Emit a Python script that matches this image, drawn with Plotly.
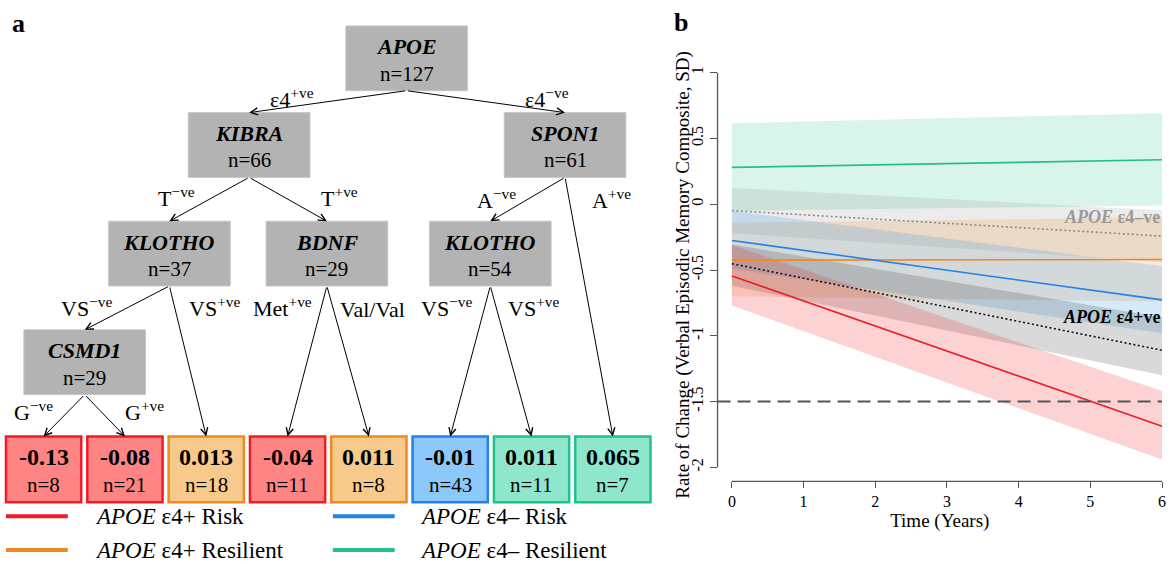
import plotly.graph_objects as go

W, H = 1176, 564
FONT = "Liberation Serif"

# ---------------- data: decision tree (panel a) ----------------
node_ids = ["apoe", "kibra", "spon1", "klotho1", "bdnf", "klotho2", "csmd1"]
node_genes = ["APOE", "KIBRA", "SPON1", "KLOTHO", "BDNF", "KLOTHO", "CSMD1"]
node_n = [127, 66, 61, 37, 29, 54, 29]

leaf_ids = ["L1", "L2", "L3", "L4", "L5", "L6", "L7", "L8"]
leaf_values = ["-0.13", "-0.08", "0.013", "-0.04", "0.011", "-0.01", "0.011", "0.065"]
leaf_n = [8, 21, 18, 11, 8, 43, 11, 7]
leaf_group = ["e4p_risk", "e4p_risk", "e4p_res", "e4p_risk", "e4p_res", "e4n_risk", "e4n_res", "e4n_res"]

edge_parent = ["apoe", "apoe", "kibra", "kibra", "spon1", "spon1", "klotho1", "klotho1",
               "bdnf", "bdnf", "klotho2", "klotho2", "csmd1", "csmd1"]
edge_child = ["kibra", "spon1", "klotho1", "bdnf", "klotho2", "L8", "csmd1", "L3",
              "L4", "L5", "L6", "L7", "L1", "L2"]
edge_labels = ["ε4<sup>+ve</sup>", "ε4<sup>−ve</sup>", "T<sup>−ve</sup>", "T<sup>+ve</sup>",
               "A<sup>−ve</sup>", "A<sup>+ve</sup>", "VS<sup>−ve</sup>", "VS<sup>+ve</sup>",
               "Met<sup>+ve</sup>", "Val/Val", "VS<sup>−ve</sup>", "VS<sup>+ve</sup>",
               "G<sup>−ve</sup>", "G<sup>+ve</sup>"]

group_keys = ["e4p_risk", "e4p_res", "e4n_risk", "e4n_res"]
group_names = ["<i>APOE</i> ε4+ Risk", "<i>APOE</i> ε4+ Resilient",
               "<i>APOE</i> ε4– Risk", "<i>APOE</i> ε4– Resilient"]

# ---------------- data: trajectories (panel b) ----------------
time_years = [0, 6]
e4p_risk_mean = [-0.545, -1.687]
e4p_risk_lo = [-0.77, -1.94]
e4p_risk_hi = [-0.31, -1.42]
e4p_res_mean = [-0.425, -0.42]
e4p_res_lo = [-0.70, -0.74]
e4p_res_hi = [-0.14, -0.10]
e4n_risk_mean = [-0.275, -0.727]
e4n_risk_lo = [-0.49, -0.98]
e4n_risk_hi = [-0.05, -0.47]
e4n_res_mean = [0.28, 0.338]
e4n_res_lo = [-0.05, -0.01]
e4n_res_hi = [0.616, 0.692]
e4neg_mean = [-0.048, -0.242]
e4neg_lo = [-0.22, -0.44]
e4neg_hi = [0.124, -0.045]
e4pos_mean = [-0.452, -1.11]
e4pos_lo = [-0.62, -1.30]
e4pos_hi = [-0.305, -0.86]
threshold = -1.5

y_ticks = [1, 0.5, 0, -0.5, -1, -1.5, -2]
y_ticktext = ["1", "0.5", "0", "-0.5", "-1", "-1.5", "-2"]
x_ticks = [0, 1, 2, 3, 4, 5, 6]

# ---------------- styles / layout positions ----------------
COL = {
    "e4p_risk": dict(line="#EE1C25", fill="#FF8585", band="rgba(238,28,36,0.2)"),
    "e4p_res": dict(line="#EE8A22", fill="#F7CA8C", band="rgba(240,140,40,0.18)"),
    "e4n_risk": dict(line="#2183E6", fill="#8DC8FB", band="rgba(30,136,229,0.18)"),
    "e4n_res": dict(line="#22C08A", fill="#8EE7CC", band="rgba(30,190,130,0.17)"),
}
NODE_POS = {"apoe": (408, 24), "kibra": (250, 111), "spon1": (567, 111),
            "klotho1": (170, 220), "bdnf": (328, 220), "klotho2": (492, 220),
            "csmd1": (85, 329)}
BOX_W, BOX_H = 122, 65
LEAF_X0, LEAF_STEP, LEAF_TOP, LEAF_W, LEAF_H = 43.75, 81.6, 436, 75.5, 66
EDGE_LABEL_POS = [(293, 96), (549, 96), (177, 196), (341, 196), (498, 198), (614, 198),
                  (87, 306), (216, 306), (283, 306), (374, 309), (449, 306), (536, 306),
                  (34, 410), (145, 410)]
LEGEND_POS = [(6, 93, 516), (6, 93, 550), (334, 419, 516), (334, 419, 550)]

fig = go.Figure()
shapes = []
annotations = []

def tx(x, y, text, size, color="black", xanchor="center", yanchor="middle", xref="x2", yref="y2"):
    annotations.append(dict(x=x, y=y, xref=xref, yref=yref, text=text, showarrow=False,
                            xanchor=xanchor, yanchor=yanchor,
                            font=dict(family=FONT, size=size, color=color)))

geom = {}
for nid, gene, n in zip(node_ids, node_genes, node_n):
    cx, top = NODE_POS[nid]
    geom[nid] = (cx, top, top + BOX_H)
    shapes.append(dict(type="rect", xref="x2", yref="y2", x0=cx - BOX_W / 2, x1=cx + BOX_W / 2,
                       y0=top, y1=top + BOX_H, fillcolor="#B3B3B3",
                       line=dict(color="#C6C6C6", width=1), layer="below"))
    tx(cx, top + 21, f"<b><i>{gene}</i></b>", 22)
    tx(cx, top + 48, f"n={n}", 21)

for i, (lid, val, n, g) in enumerate(zip(leaf_ids, leaf_values, leaf_n, leaf_group)):
    cx = LEAF_X0 + LEAF_STEP * i
    geom[lid] = (cx, LEAF_TOP, LEAF_TOP + LEAF_H)
    shapes.append(dict(type="rect", xref="x2", yref="y2", x0=cx - LEAF_W / 2, x1=cx + LEAF_W / 2,
                       y0=LEAF_TOP, y1=LEAF_TOP + LEAF_H, fillcolor=COL[g]["fill"],
                       line=dict(color=COL[g]["line"], width=2.5), layer="below"))
    tx(cx, LEAF_TOP + 21, f"<b>{val}</b>", 24)
    tx(cx, LEAF_TOP + 49, f"n={n}", 21)

for p, c, lab, (lx, ly) in zip(edge_parent, edge_child, edge_labels, EDGE_LABEL_POS):
    pcx, ptop, pbot = geom[p]
    ccx, ctop, cbot = geom[c]
    annotations.append(dict(x=ccx, y=ctop, ax=pcx, ay=pbot, xref="x2", yref="y2",
                            axref="x2", ayref="y2", text="", showarrow=True,
                            arrowhead=5, arrowsize=1.4, arrowwidth=1, arrowcolor="black",
                            standoff=0))
    tx(lx, ly, lab, 22)

for key, name, (lx0, tx0, ly) in zip(group_keys, group_names, LEGEND_POS):
    shapes.append(dict(type="line", xref="x2", yref="y2", x0=lx0, x1=lx0 + 62, y0=ly, y1=ly,
                       line=dict(color=COL[key]["line"], width=4)))
    tx(tx0, ly, name, 23, xanchor="left")

tx(19, 22, "<b>a</b>", 26)
tx(683, 21, "<b>b</b>", 26)
tx(685, 274, "Rate of Change (Verbal Episodic Memory Composite, SD)", 19)
annotations[-1]["textangle"] = -90

# ---------------- panel b traces ----------------
def band(lo, hi, color):
    fig.add_trace(go.Scatter(x=time_years + time_years[::-1], y=lo + hi[::-1], fill="toself",
                             fillcolor=color, line=dict(width=0), mode="lines",
                             hoverinfo="skip", showlegend=False, xaxis="x", yaxis="y"))

band(e4n_res_lo, e4n_res_hi, COL["e4n_res"]["band"])
band(e4neg_lo, e4neg_hi, "rgba(128,128,128,0.16)")
band(e4p_res_lo, e4p_res_hi, COL["e4p_res"]["band"])
band(e4n_risk_lo, e4n_risk_hi, COL["e4n_risk"]["band"])
band(e4pos_lo, e4pos_hi, "rgba(0,0,0,0.15)")
band(e4p_risk_lo, e4p_risk_hi, COL["e4p_risk"]["band"])

def line(y, color, dash="solid", width=1.6):
    fig.add_trace(go.Scatter(x=time_years, y=y, mode="lines",
                             line=dict(color=color, width=width, dash=dash),
                             showlegend=False, xaxis="x", yaxis="y"))

line(e4n_res_mean, COL["e4n_res"]["line"])
line(e4neg_mean, "#8A8A8A", dash="2px,2.5px", width=1.6)
line(e4p_res_mean, COL["e4p_res"]["line"])
line(e4n_risk_mean, COL["e4n_risk"]["line"])
line(e4pos_mean, "#111111", dash="2px,2.5px", width=1.6)
line(e4p_risk_mean, COL["e4p_risk"]["line"])

shapes.append(dict(type="line", xref="x domain", yref="y", x0=0, x1=1, y0=threshold, y1=threshold,
                   line=dict(color="#555555", width=2, dash="13px,7px")))
# R-style axis spines
shapes.append(dict(type="line", xref="x domain", yref="y", x0=0, x1=0, y0=min(y_ticks), y1=max(y_ticks),
                   line=dict(color="#555555", width=1.3)))
shapes.append(dict(type="line", xref="x", yref="y domain", x0=min(x_ticks), x1=max(x_ticks), y0=0, y1=0,
                   line=dict(color="#555555", width=1.3)))

annotations.append(dict(x=6, y=-0.10, xref="x", yref="y", text="<b><i>APOE</i> ε4–ve</b>",
                        showarrow=False, xanchor="right", yanchor="middle",
                        font=dict(family=FONT, size=18, color="#999999")))
annotations.append(dict(x=6, y=-0.86, xref="x", yref="y", text="<b><i>APOE</i> ε4+ve</b>",
                        showarrow=False, xanchor="right", yanchor="middle",
                        font=dict(family=FONT, size=18, color="black")))

fig.update_layout(
    width=W, height=H, margin=dict(l=0, r=0, t=0, b=0),
    paper_bgcolor="white", plot_bgcolor="rgba(0,0,0,0)",
    showlegend=False, shapes=shapes, annotations=annotations,
    font=dict(family=FONT, color="black"),
    xaxis=dict(domain=[720 / W, 1166 / W], range=[-0.2, 6], tickvals=x_ticks,
               ticks="outside", ticklen=6, tickwidth=1.2, tickcolor="#555555",
               showgrid=False, zeroline=False, showline=False,
               tickfont=dict(family=FONT, size=16),
               title=dict(text="Time (Years)", font=dict(family=FONT, size=19), standoff=0),
               anchor="y"),
    yaxis=dict(domain=[1 - 481 / H, 1 - 67 / H], range=[-2.106, 1.03], tickvals=y_ticks,
               ticktext=y_ticktext, tickangle=-90,
               ticks="outside", ticklen=7, tickwidth=1.2, tickcolor="#555555",
               showgrid=False, zeroline=False, showline=False,
               tickfont=dict(family=FONT, size=16),
               anchor="x"),
    xaxis2=dict(domain=[0, 1], range=[0, W], visible=False, anchor="y2"),
    yaxis2=dict(domain=[0, 1], range=[H, 0], visible=False, anchor="x2"),
)

fig.write_html("out.html", config={"displayModeBar": False},
               post_script="document.body.style.margin='0';document.body.style.padding='0';")
